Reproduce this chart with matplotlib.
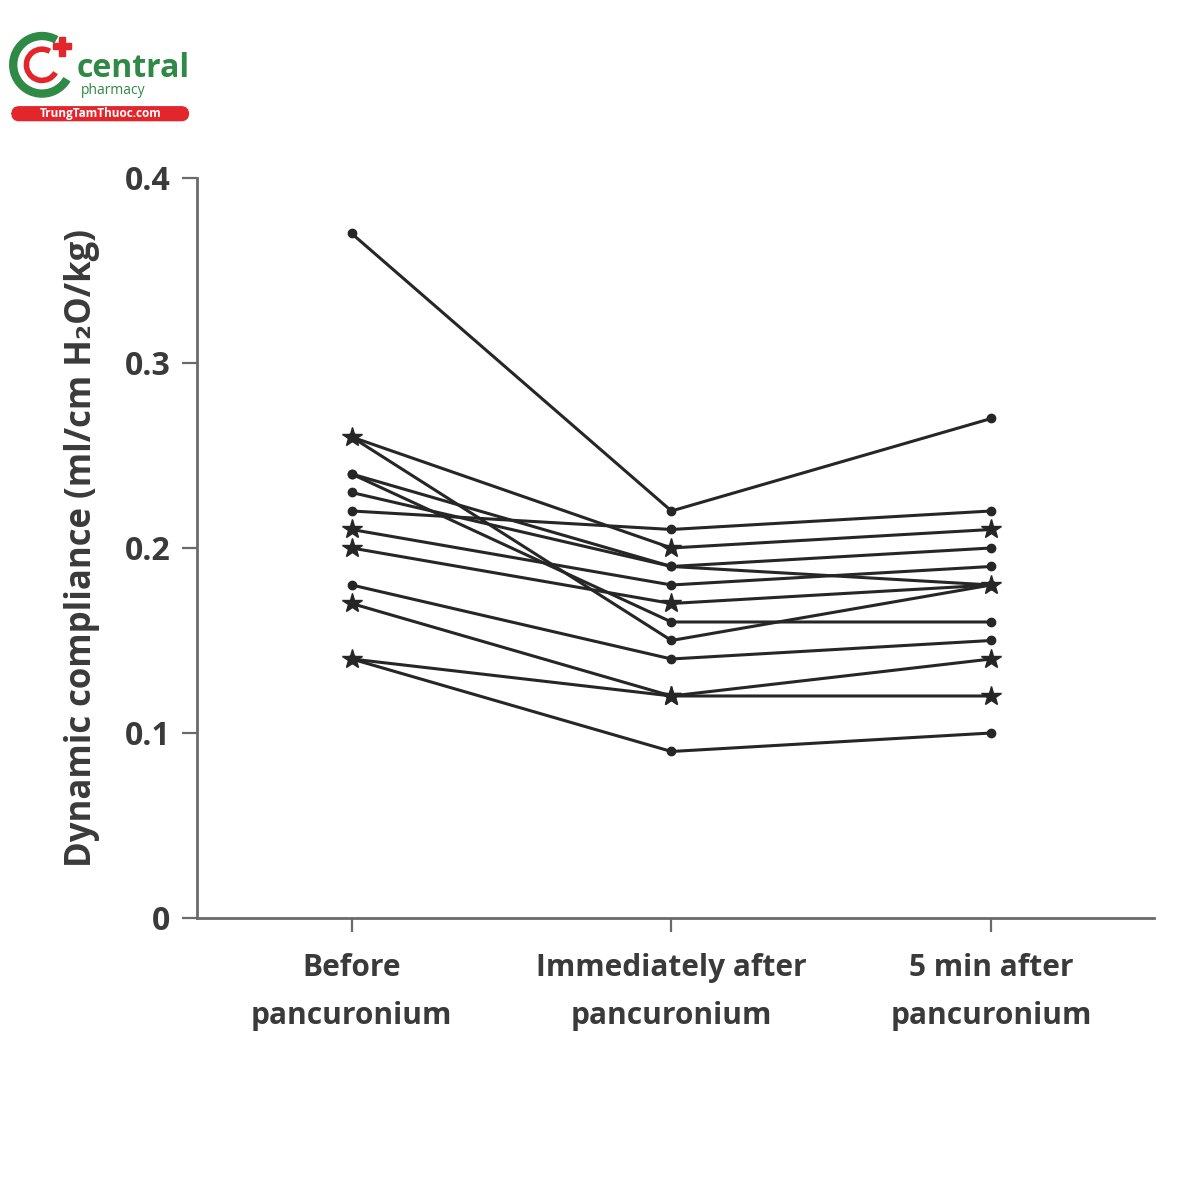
import matplotlib
matplotlib.use("Agg")
import matplotlib.pyplot as plt
from matplotlib.patches import FancyBboxPatch, Arc, Rectangle

# time points
categories = ["Before\npancuronium", "Immediately after\npancuronium", "5 min after\npancuronium"]

# one entry per subject (ml/cm H2O/kg)
before = [0.37, 0.26, 0.26, 0.24, 0.24, 0.23, 0.22, 0.21, 0.20, 0.18, 0.17, 0.14, 0.14]
immediately = [0.22, 0.15, 0.20, 0.19, 0.16, 0.19, 0.21, 0.18, 0.17, 0.14, 0.12, 0.12, 0.09]
five_min = [0.27, 0.18, 0.21, 0.20, 0.16, 0.18, 0.22, 0.19, 0.18, 0.15, 0.14, 0.12, 0.10]
# marker per point: * = star, o = dot
point_markers = ["ooo", "ooo", "***", "ooo", "ooo", "ooo", "ooo",
                 "*oo", "***", "ooo", "***", "***", "ooo"]

y_ticks = [0, 0.1, 0.2, 0.3, 0.4]
y_tick_labels = ["0", "0.1", "0.2", "0.3", "0.4"]

FONT = ["Open Sans", "DejaVu Sans"]
plt.rcParams["font.family"] = FONT

fig = plt.figure(figsize=(12, 12), dpi=100)
ax = fig.add_axes([0.164, 0.235, 0.798, 0.6167])

line_col = "#262626"
xs = list(range(len(categories)))
for b, i, f, mk in zip(before, immediately, five_min, point_markers):
    ys = [b, i, f]
    ax.plot(xs, ys, color=line_col, lw=2.2, zorder=2)
    for x, y, m in zip(xs, ys, mk):
        if m == "*":
            ax.plot(x, y, marker="*", ms=15, color=line_col, zorder=3)
        else:
            ax.plot(x, y, marker="o", ms=6, color=line_col, zorder=3)

ax.set_xlim(-0.484, 2.51)
ax.set_ylim(0, 0.4)
ax.set_yticks(y_ticks)
ax.set_yticklabels(y_tick_labels)
ax.set_xticks(xs)
ax.set_xticklabels(categories, linespacing=1.8)

for s in ["top", "right"]:
    ax.spines[s].set_visible(False)
for s in ["left", "bottom"]:
    ax.spines[s].set_color("#6a6a6a")
    ax.spines[s].set_linewidth(2.0)

ax.tick_params(axis="y", length=11, width=1.6, color="#6a6a6a",
               labelsize=23, labelcolor="#3a3a3a", pad=8)
ax.tick_params(axis="x", length=10, width=1.6, color="#6a6a6a",
               labelsize=21.5, labelcolor="#3a3a3a", pad=15)
for lab in ax.get_yticklabels() + ax.get_xticklabels():
    lab.set_fontweight("bold")

ax.set_ylabel("Dynamic compliance (ml/cm H\u2082O/kg)", fontsize=25,
              color="#3a3a3a", fontweight="bold", labelpad=18)

# logo watermark (top left)
green = "#2f8a45"
red = "#e2262b"
fig.patches.append(Arc((0.035, 0.946), 0.048, 0.048, theta1=60, theta2=330,
                       lw=6, color=green, transform=fig.transFigure))
fig.patches.append(Arc((0.035, 0.946), 0.026, 0.026, theta1=60, theta2=330,
                       lw=4, color=red, transform=fig.transFigure))
fig.patches.append(Rectangle((0.044, 0.959), 0.015, 0.005, color=red,
                             transform=fig.transFigure))
fig.patches.append(Rectangle((0.049, 0.9535), 0.005, 0.016, color=red,
                             transform=fig.transFigure))
fig.text(0.064, 0.936, "central", fontsize=23, color=green, fontweight="bold",
         family=["Open Sans", "DejaVu Sans"])
fig.text(0.067, 0.922, "pharmacy", fontsize=10, color=green,
         family=["Open Sans", "DejaVu Sans"])
fig.patches.append(FancyBboxPatch((0.012, 0.9015), 0.143, 0.0075,
                                  boxstyle="round,pad=0.002,rounding_size=0.006",
                                  color=red, transform=fig.transFigure))
fig.text(0.0835, 0.905, "TrungTamThuoc.com", fontsize=8.5, color="white",
         fontweight="bold", ha="center", va="center",
         family=["Open Sans", "DejaVu Sans"])

fig.savefig("out.png", dpi=100, facecolor="white")
